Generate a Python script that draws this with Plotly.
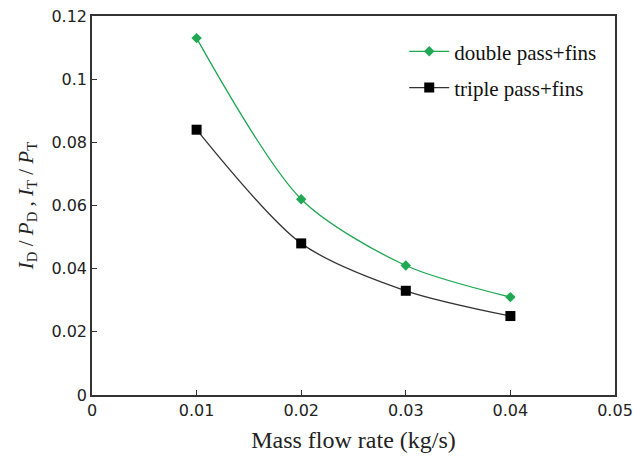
import plotly.graph_objects as go

mass_flow = [0.01, 0.02, 0.03, 0.04]
double_pass_fins = [0.113, 0.062, 0.041, 0.031]
triple_pass_fins = [0.084, 0.048, 0.033, 0.025]
x_ticks = [0, 0.01, 0.02, 0.03, 0.04, 0.05]
x_tick_labels = ["0", "0.01", "0.02", "0.03", "0.04", "0.05"]
y_ticks = [0, 0.02, 0.04, 0.06, 0.08, 0.1, 0.12]
y_tick_labels = ["0", "0.02", "0.04", "0.06", "0.08", "0.1", "0.12"]

fig = go.Figure()
fig.add_trace(go.Scatter(
    x=mass_flow, y=double_pass_fins, name="double pass+fins",
    mode="lines+markers", legendgroup="d",
    line=dict(color="#1fa854", width=1.3, shape="spline", smoothing=0.8),
    marker=dict(symbol="diamond", size=8, color="#1fa854"),
))
fig.add_trace(go.Scatter(
    x=mass_flow, y=triple_pass_fins, name="triple pass+fins",
    mode="lines+markers", legendgroup="t",
    line=dict(color="#333333", width=1.3, shape="spline", smoothing=0.8),
    marker=dict(symbol="square", size=10, color="#000000"),
))

axis_common = dict(
    showline=True, linecolor="#333333", linewidth=1.5, mirror=True,
    ticks="inside", ticklen=5, tickcolor="#333333", tickwidth=1,
    showgrid=False, zeroline=False, automargin=False,
    tickfont=dict(family="DejaVu Sans", size=16, color="#222222"),
)

fig.update_xaxes(range=[0, 0.05], tickvals=x_ticks, ticktext=x_tick_labels,
                 title=dict(text="Mass flow rate (kg/s)",
                            font=dict(family="Liberation Serif", size=24, color="#222222"),
                            standoff=12),
                 **axis_common)
fig.update_yaxes(range=[0, 0.12], tickvals=y_ticks, ticktext=y_tick_labels,
                 title=dict(text="<i>I</i><sub>D</sub> / <i>P</i><sub>D</sub> , <i>I</i><sub>T</sub> / <i>P</i><sub>T</sub>",
                            font=dict(family="Liberation Serif", size=21, color="#222222"),
                            standoff=12),
                 **axis_common)

fig.update_layout(
    width=633, height=461,
    margin=dict(l=92, r=18, t=16, b=66),
    plot_bgcolor="white", paper_bgcolor="white",
    showlegend=True,
    legend=dict(x=0.597, y=0.96, xanchor="left", yanchor="top",
                bgcolor="rgba(255,255,255,0)", borderwidth=0,
                font=dict(family="Liberation Serif", size=21, color="#111111"),
                itemwidth=40, tracegroupgap=6),
)

fig.write_html("out.html", config={"displayModeBar": False},
               post_script="document.body.style.margin='0';")
